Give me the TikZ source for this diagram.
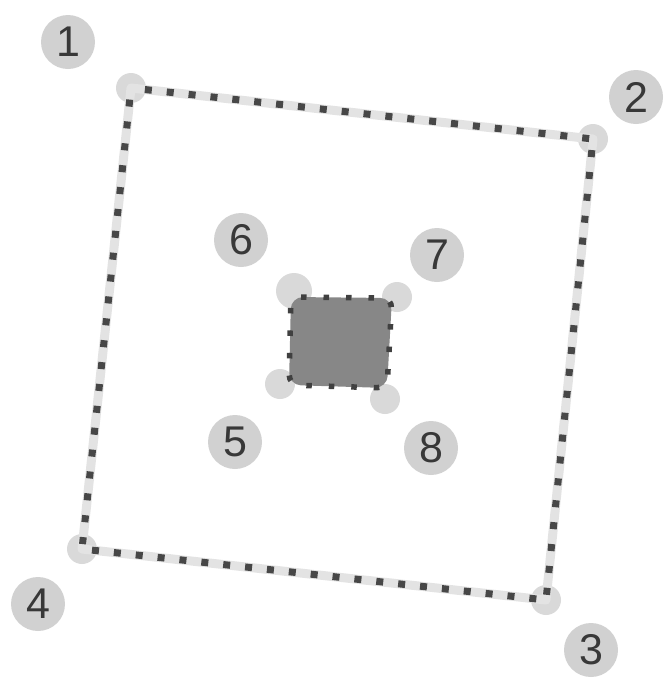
\documentclass[tikz,border=0pt]{standalone}
\usepackage{fontspec}
\setmainfont{Liberation Sans}
\usetikzlibrary{calc}
\begin{document}
\begin{tikzpicture}[x=1pt,y=-1pt,
 lbl/.style={circle, fill=black!18, inner sep=0pt, minimum size=54pt, text=black!78, font=\fontsize{43}{43}\selectfont},
 halo/.style={fill=black!15},
 track/.style={draw=black!11, line width=9pt, line join=round},
 dotline/.style={draw=black!72, line width=7pt, dash pattern=on 7pt off 15pt},
 innerdots/.style={draw=black!75, line width=5.5pt, dash pattern=on 5.5pt off 17pt, rounded corners=10pt},
]
\useasboundingbox (0,0) rectangle (664,678);
% outer corners
\coordinate (c1) at (131,88);
\coordinate (c2) at (593,139);
\coordinate (c3) at (546,600);
\coordinate (c4) at (82,549);
% inner corners
\coordinate (i1) at (291,297);
\coordinate (i2) at (392,298);
\coordinate (i3) at (387,388);
\coordinate (i4) at (289,385);
% halos
\foreach \c in {c1,c2,c3,c4} \fill[halo] (\c) circle[radius=15pt];
\fill[halo] (294,291) circle[radius=18pt];
\fill[halo] (397,297) circle[radius=15pt];
\fill[halo] (385,399) circle[radius=15pt];
\fill[halo] (280,384) circle[radius=15pt];
% outer frame
\draw[track] (c1) -- (c2) -- (c3) -- (c4) -- cycle;
\draw[dotline] ($(c1)!0.03!(c2)$) -- (c2) -- (c3) -- (c4) -- (c1);
% inner block
\fill[black!47, rounded corners=12pt] (i1) -- (i2) -- (i3) -- (i4) -- cycle;
\draw[innerdots] (i1) -- (i2) -- (i3) -- (i4) -- cycle;
% labels
\node[lbl] (n1) at (68,42) {1};
\node[lbl] (n2) at (636,97) {2};
\node[lbl] (n3) at (591,650) {3};
\node[lbl] (n4) at (38,604) {4};
\node[lbl] (n5) at (235,442) {5};
\node[lbl] (n6) at (241,240) {6};
\node[lbl] (n7) at (437,255) {7};
\node[lbl] (n8) at (431,448) {8};
\end{tikzpicture}
\end{document}
